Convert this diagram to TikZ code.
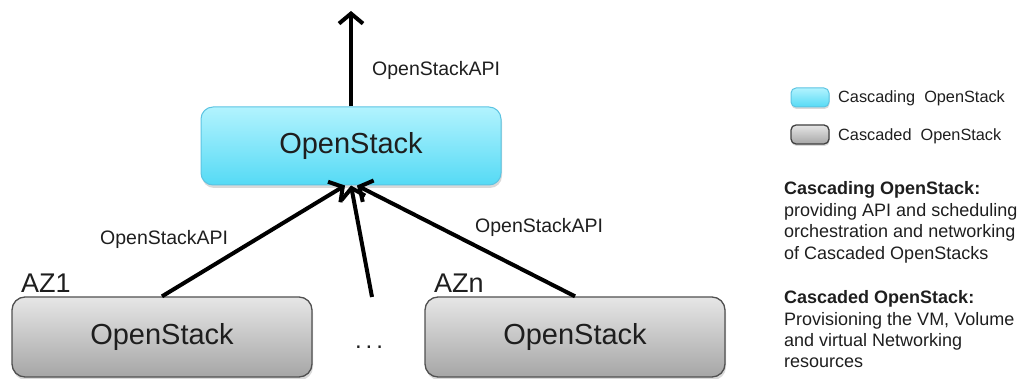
\documentclass[tikz,border=0pt]{standalone}
\usepackage{fontspec}
\setmainfont{Liberation Sans}
\usetikzlibrary{arrows.meta,shadows,calc}
\definecolor{cyanTop}{HTML}{B2F3FE}
\definecolor{cyanBot}{HTML}{55DAF5}
\definecolor{cyanLine}{HTML}{5CC4E2}
\definecolor{greyTop}{HTML}{E6E6E6}
\definecolor{greyBot}{HTML}{A6A6A6}
\definecolor{greyLine}{HTML}{505050}
\definecolor{txt}{HTML}{1E1E1E}
\tikzset{
  cascading/.style={draw=cyanLine, line width=1pt, rounded corners=12pt,
    top color=cyanTop, bottom color=cyanBot, minimum width=300pt, minimum height=78pt,
    drop shadow={shadow xshift=1pt, shadow yshift=-3pt, opacity=0.3},
    font=\fontsize{29}{34}\selectfont, text=txt, inner sep=0pt},
  cascaded/.style={draw=greyLine, line width=1.3pt, rounded corners=13pt,
    top color=greyTop, bottom color=greyBot, minimum width=300pt, minimum height=80pt,
    drop shadow={shadow xshift=1pt, shadow yshift=-3pt, opacity=0.3},
    font=\fontsize{29}{34}\selectfont, text=txt, inner sep=0pt},
  legcyan/.style={draw=cyanLine, line width=1pt, rounded corners=5pt,
    top color=cyanTop, bottom color=cyanBot, minimum width=38pt, minimum height=19pt,
    drop shadow={shadow xshift=0.5pt, shadow yshift=-2pt, opacity=0.3}, inner sep=0pt},
  leggrey/.style={draw=greyLine!80!black, line width=1.3pt, rounded corners=5pt,
    top color=greyTop, bottom color=greyBot, minimum width=38pt, minimum height=19pt,
    drop shadow={shadow xshift=0.5pt, shadow yshift=-2pt, opacity=0.3}, inner sep=0pt},
  apilabel/.style={anchor=base west, inner sep=0pt, text=txt, font=\fontsize{19.5}{23}\selectfont},
  azlabel/.style={anchor=base west, inner sep=0pt, text=txt, font=\fontsize{27}{32}\selectfont},
  legtext/.style={anchor=base west, inner sep=0pt, text=txt, font=\fontsize{16.3}{19}\selectfont},
  desc/.style={anchor=base west, inner sep=0pt, text=txt, font=\fontsize{18}{21.4}\selectfont},
  deschead/.style={desc, font=\fontsize{18}{21.4}\selectfont\bfseries},
  conn/.style={line width=4pt, -{Straight Barb[length=10pt,width=24pt]}},
}
\begin{document}
\begin{tikzpicture}[x=1pt,y=-1pt]
\useasboundingbox (0,0) rectangle (1018,379);
% boxes
\node[cascading] (top) at (351,146) {OpenStack};
\node[cascaded] (az1) at (162,337) {OpenStack};
\node[cascaded] (azn) at (575,337) {OpenStack};
% labels
\node[azlabel] (az1lab) at (21,293) {AZ1};
\node[azlabel] (aznlab) at (434,293) {AZn};
\node[anchor=base, inner sep=0pt, text=txt, font=\fontsize{24}{28}\selectfont] (dots) at (369,349) {.\,.\,.};
\node[apilabel] (apitop) at (372,76) {OpenStackAPI};
\node[apilabel] (apileft) at (100,245) {OpenStackAPI};
\node[apilabel] (apiright) at (475,233) {OpenStackAPI};
% connectors
\coordinate (upend) at (351,11);
\coordinate (midstart) at (372,297);
\draw[conn] (top.north) -- (upend);
\draw[conn] (az1.north) -- ([xshift=-6pt]top.south);
\draw[conn] (midstart) -- ([xshift=0pt]top.south);
\draw[conn] (azn.north) -- ([xshift=6pt]top.south);
% legend
\node[legcyan] (lc) at (810,97.5) {};
\node[leggrey] (lg) at (810,134.5) {};
\node[legtext] (lct) at (838,103) {Cascading\ \ OpenStack};
\node[legtext] (lgt) at (838,141) {Cascaded\ \ OpenStack};
% descriptions
\node[deschead] (d1h) at (784,195) {Cascading OpenStack:};
\node[desc] (d1a) at (784,216.5) {providing API and scheduling};
\node[desc] (d1b) at (784,238) {orchestration and networking};
\node[desc] (d1c) at (784,259.5) {of Cascaded OpenStacks};
\node[deschead] (d2h) at (784,304) {Cascaded OpenStack:};
\node[desc] (d2a) at (784,325.5) {Provisioning the VM, Volume};
\node[desc] (d2b) at (784,347) {and virtual Networking};
\node[desc] (d2c) at (784,368) {resources};
\end{tikzpicture}
\end{document}
